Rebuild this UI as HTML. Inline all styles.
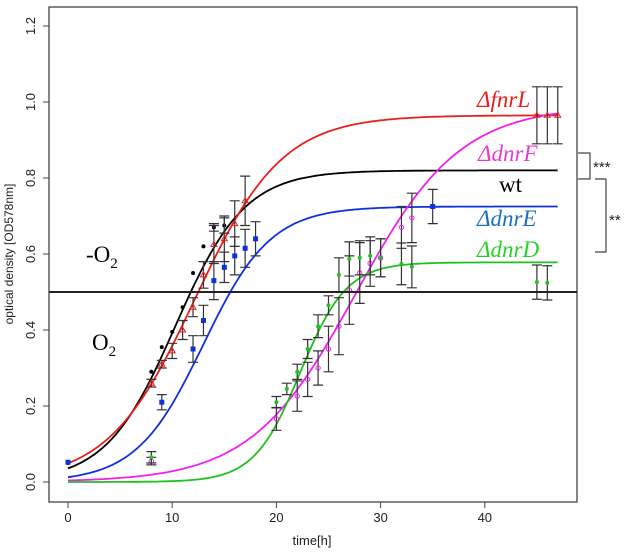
<!DOCTYPE html>
<html><head><meta charset="utf-8">
<style>
html,body{margin:0;padding:0;background:#fff;}
svg{display:block;}
text{font-family:"Liberation Sans",sans-serif;}
.lab{font-family:"Liberation Serif",serif;font-style:italic;font-size:23px;}
</style></head>
<body>
<svg id="chart" width="630" height="553" viewBox="0 0 630 553">
<rect x="49" y="7" width="528" height="495" fill="none" stroke="#444" stroke-width="1.3"/>
<g id="axes"></g>
<g id="curves"></g>
<g id="points"></g>
<line x1="49" x2="577" y1="292" y2="292" stroke="#222" stroke-width="2"/>
<text x="86" y="262" font-size="23" style="font-family:'Liberation Serif',serif">-O<tspan font-size="15" dy="6">2</tspan></text>
<text x="92" y="350" font-size="23" style="font-family:'Liberation Serif',serif">O<tspan font-size="15" dy="6">2</tspan></text>
<text class="lab" x="477" y="107" fill="#e8201c">ΔfnrL</text>
<text class="lab" x="478" y="161" fill="#e83ad0">ΔdnrF</text>
<text x="499" y="192" font-size="23" fill="#000" style="font-family:'Liberation Serif',serif">wt</text>
<text class="lab" x="477" y="226" fill="#1a6fc0">ΔdnrE</text>
<text class="lab" x="477" y="257" fill="#2ad02a">ΔdnrD</text>
<polyline points="578,153 590,153 590,179 578,179" fill="none" stroke="#444" stroke-width="1.2"/>
<text x="593" y="172" font-size="15" fill="#222">***</text>
<polyline points="595,179 606,179 606,252 595,252" fill="none" stroke="#444" stroke-width="1.2"/>
<text x="609" y="225" font-size="15" fill="#222">**</text>
<text x="13" y="254" font-size="12" fill="#222" transform="rotate(-90 13 254)" text-anchor="middle">optical density [OD578nm]</text>
<text x="312" y="545" font-size="13" fill="#222" text-anchor="middle">time[h]</text>
</svg>
<script>
const xTicks=[0,10,20,30,40];
const yTicks=[0.0,0.2,0.4,0.6,0.8,1.0,1.2];
const yTickLabels=["0.0","0.2","0.4","0.6","0.8","1.0","1.2"];
const seriesNames=["wt","fnrL","dnrE","dnrF","dnrD"];
const fitA=[0.82,0.965,0.725,0.99,0.578];
const fitK=[0.30,0.24,0.31,0.2,0.45];
const fitT0=[10.3,12.2,13.0,27.6,22.3];
const wtT=[0,8,9,10,11,12,13,14,15];
const wtY=[0.05,0.29,0.355,0.395,0.46,0.55,0.62,0.67,0.675];
const wtE=[0,0,0,0,0,0,0,0.01,0.02];
const fnrT=[8,9,10,11,12,13,14,15,16,17,45,46,47];
const fnrY=[0.26,0.31,0.345,0.40,0.46,0.545,0.625,0.64,0.68,0.74,0.965,0.965,0.965];
const fnrE=[0.01,0.01,0.02,0.025,0.025,0.035,0.05,0.06,0.06,0.065,0.075,0.075,0.075];
const dnrET=[0,9,12,13,14,15,16,17,18,35];
const dnrEY=[0.052,0.21,0.35,0.425,0.53,0.565,0.595,0.615,0.64,0.725];
const dnrEE=[0,0.02,0.035,0.04,0.05,0.04,0.05,0.05,0.045,0.045];
const dnrFT=[8,20,22,23,24,25,26,27,28,29,30,32,33];
const dnrFY=[0.055,0.166,0.226,0.27,0.30,0.35,0.41,0.505,0.55,0.575,0.59,0.67,0.695];
const dnrFE=[0.01,0.03,0.04,0.045,0.045,0.06,0.075,0.09,0.08,0.06,0.05,0.055,0.065];
const dnrDT=[8,20,21,22,23,24,25,26,27,28,29,30,32,33,45,46];
const dnrDY=[0.065,0.21,0.245,0.29,0.35,0.41,0.465,0.545,0.587,0.59,0.595,0.59,0.574,0.566,0.526,0.524];
const dnrDE=[0.015,0.015,0.015,0.02,0.025,0.03,0.025,0.045,0.045,0.045,0.05,0.05,0.055,0.055,0.045,0.045];
const colors=["#000","#e8201c","#1030e0","#f020f0","#20c020"];
const ns="http://www.w3.org/2000/svg";
function X(t){return 68+t*10.42;}
function Y(v){return 482-v*380;}
function mk(tag,attrs,parent){const e=document.createElementNS(ns,tag);for(const k in attrs)e.setAttribute(k,attrs[k]);parent.appendChild(e);return e;}
const axes=document.getElementById('axes');
xTicks.forEach((t,i)=>{
  const l=mk('line',{x1:X(t),x2:X(t),y1:502,y2:508,stroke:'#444'},axes);
  
  
  const tx=mk('text',{x:X(t),y:522,'font-size':13,'text-anchor':'middle',fill:'#222'},axes);
  tx.textContent=String(t);
  
  
});
yTicks.forEach((v,i)=>{
  const l=mk('line',{x1:43,x2:49,y1:Y(v),y2:Y(v),stroke:'#444'},axes);
  
  
  const tx=mk('text',{x:35,y:Y(v),'font-size':13,'text-anchor':'middle',fill:'#222',transform:`rotate(-90 35 ${Y(v)})`},axes);
  tx.textContent=yTickLabels[i];
  
  
});
const cg=document.getElementById('curves');
for(let s=0;s<5;s++){
  let d='';
  for(let t=0;t<=47;t+=0.25){
    const v=fitA[s]/(1+Math.exp(-fitK[s]*(t-fitT0[s])));
    d+=(t===0?'M':'L')+X(t).toFixed(1)+','+Y(v).toFixed(1);
  }
  const p=mk('path',{d:d,fill:'none',stroke:colors[s],'stroke-width':1.8},cg);
  
  
}
const pg=document.getElementById('points');
const sets=[[wtT,wtY,wtE,0,'dot'],[fnrT,fnrY,fnrE,1,'tri'],[dnrET,dnrEY,dnrEE,2,'sq'],[dnrFT,dnrFY,dnrFE,3,'circ'],[dnrDT,dnrDY,dnrDE,4,'dot']];
sets.forEach(([T,V,E,s,shape])=>{
  T.forEach((t,i)=>{
    const x=X(t),y=Y(V[i]),e=E[i];
    if(e>0){
      const eb=mk('path',{d:`M${x},${Y(V[i]-e)}V${Y(V[i]+e)}M${x-5},${Y(V[i]-e)}h10M${x-5},${Y(V[i]+e)}h10`,stroke:'#333','stroke-width':1.2,fill:'none'},pg);
      
      
    }
    let m;
    if(shape==='dot')m=mk('circle',{cx:x,cy:y,r:2,fill:colors[s]},pg);
    else if(shape==='sq')m=mk('rect',{x:x-2.5,y:y-2.5,width:5,height:5,fill:colors[s]},pg);
    else if(shape==='tri')m=mk('path',{d:`M${x},${y-3}L${x+3},${y+2}L${x-3},${y+2}Z`,fill:'none',stroke:colors[s]},pg);
    else m=mk('circle',{cx:x,cy:y,r:2.2,fill:'none',stroke:colors[s]},pg);
    
    
  });
});
</script>
</body></html>
